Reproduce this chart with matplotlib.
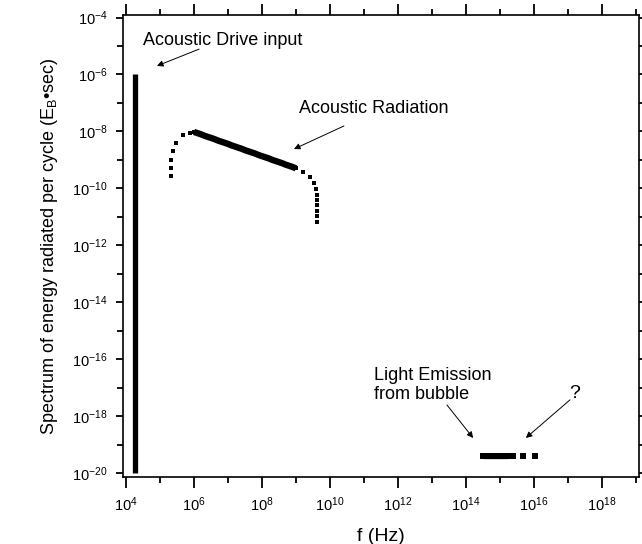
import numpy as np
import matplotlib
matplotlib.use("Agg")
import matplotlib.pyplot as plt
from matplotlib.ticker import FixedLocator, FuncFormatter, NullFormatter

plt.rcParams['font.family'] = ['Liberation Sans', 'DejaVu Sans']
plt.rcParams['mathtext.fontset'] = 'custom'
plt.rcParams['mathtext.rm'] = 'Liberation Sans'
plt.rcParams['mathtext.it'] = 'Liberation Sans:italic'

# acoustic drive (single frequency, from top to bottom of the spectrum)
drive_f = 1.9e4
drive_E = [1e-6, 1e-20]

# acoustic radiation, log10 values
rad_logf = [5.32, 5.32, 5.32, 5.38, 5.47, 5.68, 5.88,
            6.0, 6.1, 6.2, 6.3, 6.4, 6.5, 6.6, 6.7, 6.8, 6.9,
            7.0, 7.1, 7.2, 7.3, 7.4, 7.5, 7.6, 7.7, 7.8, 7.9,
            8.0, 8.1, 8.2, 8.3, 8.4, 8.5, 8.6, 8.7, 8.8, 8.9, 9.0,
            9.21, 9.41, 9.53, 9.59, 9.62, 9.62, 9.62, 9.62, 9.62, 9.62]
rad_logE = [-9.57, -9.29, -9.01, -8.69, -8.41, -8.13, -8.06,
            -8.02, -8.06, -8.10, -8.15, -8.19, -8.23, -8.27, -8.32, -8.36, -8.40,
            -8.44, -8.49, -8.53, -8.57, -8.61, -8.66, -8.70, -8.74, -8.78, -8.83,
            -8.87, -8.91, -8.95, -9.00, -9.04, -9.08, -9.12, -9.17, -9.21, -9.25, -9.30,
            -9.43, -9.60, -9.81, -10.02, -10.23, -10.41, -10.59, -10.80, -10.97, -11.18]

# light emission from the bubble
light_logf = [14.50, 14.58, 14.66, 14.74, 14.82, 14.90, 14.98, 15.06, 15.14, 15.21,
              15.38, 15.68, 16.03]
light_logE = [-19.40] * 13

xmajor = [4, 6, 8, 10, 12, 14, 16, 18]
ymajor = [-20, -18, -16, -14, -12, -10, -8, -6, -4]

fig = plt.figure(figsize=(6.42, 5.44), dpi=100)
ax = fig.add_axes([0.1916, 0.1232, 0.8037, 0.8493])

ax.plot([drive_f, drive_f], drive_E, color='k', lw=3.8, solid_capstyle='butt')

rf = 10 ** np.array(rad_logf)
rE = 10 ** np.array(rad_logE)
ax.plot(rf[7:38], rE[7:38], color='k', lw=4.6, solid_capstyle='butt')
ax.plot(rf, rE, 's', color='k', ms=3.5, mew=0)

lf = 10 ** np.array(light_logf)
lE = 10 ** np.array(light_logE)
ax.plot(lf[:10], lE[:10], color='k', lw=3.8, solid_capstyle='butt')
ax.plot(lf, lE, 's', color='k', ms=3.8, mew=0)

ax.set_xscale('log')
ax.set_yscale('log')
ax.set_xlim(10 ** 3.912, 10 ** 19.088)
ax.set_ylim(10 ** -20.14, 10 ** -3.91)

ax.xaxis.set_major_locator(FixedLocator([10.0 ** k for k in xmajor]))
ax.xaxis.set_minor_locator(FixedLocator([10.0 ** (k + 1) for k in xmajor]))
ax.yaxis.set_major_locator(FixedLocator([10.0 ** k for k in ymajor]))
ax.yaxis.set_minor_locator(FixedLocator([10.0 ** (k + 1) for k in ymajor[:-1]]))
fmt = FuncFormatter(lambda v, p: r'$10^{%d}$' % round(np.log10(v)))
ax.xaxis.set_major_formatter(fmt)
ax.yaxis.set_major_formatter(fmt)
ax.xaxis.set_minor_formatter(NullFormatter())
ax.yaxis.set_minor_formatter(NullFormatter())

ax.tick_params(axis='x', which='major', direction='out', length=8, width=1.3,
               top=True, labelsize=10.5, pad=5)
ax.tick_params(axis='x', which='minor', direction='out', length=4, width=1.3, top=True)
ax.tick_params(axis='y', which='major', direction='out', length=5, width=1.3,
               right=True, labelsize=10.5, pad=6)
ax.tick_params(axis='y', which='minor', direction='out', length=4, width=1.3, right=True)
for s in ax.spines.values():
    s.set_linewidth(1.2)

ax.set_xlabel('f (Hz)', fontsize=14, labelpad=10)
ax.set_ylabel('Spectrum of energy radiated per cycle (E$_\\mathrm{B}$\u2022sec)',
              fontsize=13, labelpad=9)

arr = dict(arrowstyle='-|>', color='k', lw=0.7, mutation_scale=9, shrinkA=0, shrinkB=0)

ax.text(10 ** 4.5, 10 ** -4.79, 'Acoustic Drive input', fontsize=13, va='center')
ax.annotate('', xy=(10 ** 4.91, 10 ** -5.70), xytext=(10 ** 6.15, 10 ** -5.11),
            arrowprops=arr)

ax.text(10 ** 9.09, 10 ** -7.18, 'Acoustic Radiation', fontsize=13, va='center')
ax.annotate('', xy=(10 ** 8.94, 10 ** -8.62), xytext=(10 ** 10.41, 10 ** -7.81),
            arrowprops=arr)

ax.text(10 ** 11.29, 10 ** -16.91, 'Light Emission\nfrom bubble', fontsize=13,
        va='center', linespacing=1.1)
ax.annotate('', xy=(10 ** 14.21, 10 ** -18.77), xytext=(10 ** 13.44, 10 ** -17.61),
            arrowprops=arr)

ax.text(10 ** 17.21, 10 ** -17.19, '?', fontsize=14, ha='center', va='center')
ax.annotate('', xy=(10 ** 15.76, 10 ** -18.77), xytext=(10 ** 17.06, 10 ** -17.43),
            arrowprops=arr)

fig.savefig('out.png', dpi=100)
